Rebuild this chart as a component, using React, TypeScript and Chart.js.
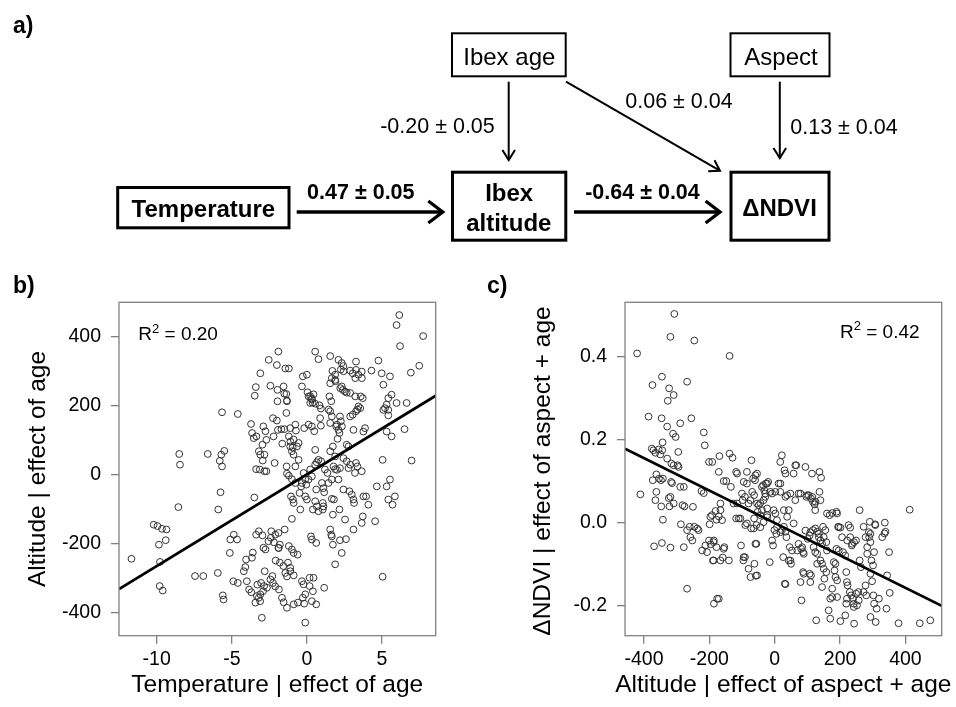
import React, { useEffect, useRef } from 'react';
import { Chart, registerables } from 'chart.js';

Chart.register(...registerables);

const FONT = '"Liberation Sans", Arial, Helvetica, sans-serif';
Chart.defaults.font.family = FONT;

// ---------- Panel b: Temperature | effect of age  vs  Altitude | effect of age ----------
const bTemp = [
  -11.68, -10.2, -9.95, -9.65, -9.35, -9.85, -9.4, -9.78, -9.8, -9.6, -8.5, -8.45, -8.56, -7.45, -6.9, -6.6,
  -5.9, -5.93, -5.8, -5.7, -5.65, -5.5, -5.75, -5.65, -5.6, -5.55, -5.13, -5.1, -4.87, -4.65, -4.9, -4.6,
  -4.6, -4.2, -4.1, -4.05, -4.0, -3.85, -3.7, -3.72, -3.65, -3.54, -3.36, -3.6, -3.47, -3.4, -3.5, -3.38,
  -3.14, -3.38, -3.2, -2.96, -3.43, -3.2, -3.1, -2.92, -3.3, -3.05, -2.85, -3.2, -3.1, -2.96, -2.83, -3.1,
  -3.0, -2.94, -2.83, -2.7, -2.9, -2.76, -2.81, -2.76, -2.7, -2.54, -2.43, -2.4, -2.37, -2.2, -2.43, -2.3,
  -2.26, -2.26, -2.15, -2.08, -1.8, -1.57, -2.0, -2.0, -1.93, -1.7, -1.5, -1.9, -1.88, -1.8, -1.86, -1.66,
  -1.55, -1.33, -1.64, -1.55, -1.37, -1.44, -1.37, -1.33, -1.48, -1.35, -1.33, -1.2, -1.1, -0.95, -1.0, -0.88,
  -1.2, -1.26, -1.2, -1.0, -1.1, -0.88, -1.0, -1.06, -0.93, -0.88, -1.2, -1.0, -0.77, -0.88, -0.77, -0.73,
  -0.66, -0.55, -0.62, -0.88, -0.6, -0.77, -0.55, -0.49, -0.33, -0.38, -0.44, -0.33, -0.27, 0, -0.33, -0.22,
  -0.27, -0.11, -0.18, -0.11, -0.18, 0.11, 0.33, 0.49, -0.22, -0.11, 0.11, -0.04, -0.11, 0, 0.04, 0.22,
  0.33, 0.44, 0.22, 0.38, 0.55, 0.18, 0.44, 0.18, 0.4, 0.33, 0.62, 0.33, 0.22, 0.27, 0.33, 0.62,
  0.4, 0.55, 0.66, 0.77, 0.95, 0.55, 0.55, 0.66, 0.77, 0.62, 0.77, 0.84, 0.93, 0.88, 0.93, 1.0,
  1.1, 1.15, 1.06, 1.1, 1.06, 1.15, 1.2, 1.37, 1.44, 1.66, 1.55, 1.55, 1.66, 1.88, 1.5, 1.62,
  1.55, 1.66, 1.55, 1.73, 1.88, 1.55, 1.62, 1.66, 1.66, 1.8, 1.73, 1.73, 1.77, 1.88, 2.0, 2.2,
  1.88, 1.95, 2.1, 2.17, 2.04, 2.1, 2.26, 2.43, 2.32, 2.1, 2.17, 2.2, 2.2, 2.26, 2.32, 2.4,
  2.54, 2.65, 2.32, 2.43, 2.65, 2.43, 2.54, 2.6, 2.65, 2.77, 2.77, 2.88, 2.83, 2.99, 3.1, 3.14,
  2.88, 3.05, 3.27, 2.88, 3.05, 3.27, 3.43, 3.65, 3.1, 3.1, 3.2, 3.27, 3.36, 3.27, 3.43, 3.58,
  3.72, 3.65, 3.65, 3.72, 3.76, 3.87, 3.76, 3.94, 4.09, 4.3, 4.54, 4.65, 4.76, 4.98, 5.04, 5.04,
  5.09, 5.09, 5.2, 5.31, 5.42, 5.42, 5.31, 5.31, 5.42, 5.42, 5.64, 5.53, 5.53, 5.64, 5.7, 5.86,
  5.97, 5.97, 6.15, 6.2, 6.5, 6.64, 6.92, 6.97, 7.48, 7.74, 0.55, 1.7, 1.9,
  -1.96, -1.51, -1.96, -1.33, 0.11, 0.33, 3.22, 3.66, 2.44, 2.88, 3.22, 2.22, 1.88, 3.37, 3.55, 1.44,
  1.55, 2.0, 2.33, -1.11, -2.22, -1.11, -0.89, -2.11, -2.56, -3.66, -1.11, -1.33, -1.44, -3.33, -3.11, -2.66,
  -2.11, -1.89, -2.89, -1.89,
];
const bAlt = [
  -245, -146, -150, -158, -160, -204, -191, -254, -324, -337, 59, 28, -95, -295, -295, 59,
  -102, -286, 39, 57, 23, 68, -52, 180, -351, -363, -228, -189, -175, -189, -310, -315,
  175, -281, -269, -247, -310, -334, -342, 146, 120, 105, 110, -227, 228, 253, -67, 15,
  14, -175, -165, -177, -372, -358, -348, -339, -320, -315, -324, 67, 57, 86, 57, 293,
  -416, 40, 9, 9, 139, 125, -281, -218, 100, 332, 257, -184, -165, -197, -305, -295,
  -315, 163, 33, -250, -256, -266, 317, 156, 129, 131, 131, 356, -214, -204, -334, -358,
  -371, -387, 89, 255, 233, 307, 178, 214, -160, 23, 2, 110, 95, 78, 67, 101,
  307, -256, -208, -218, -281, -293, -129, -64, -73, -83, -4, -14, -25, -228, 23, 127,
  81, 91, -233, -377, -372, 144, 42, -54, -25, -35, -102, 255, 284, 289, -310, -319,
  -358, -348, -375, -430, 134, 144, 139, 125, 4, -14, -15, -30, -64, -73, 238, 227,
  220, 232, 207, 208, 205, -300, -300, -324, -339, -368, -377, -6, 14, -180, -189, -199,
  -102, 28, 35, 42, 38, 71, -78, -93, -107, -44, 334, 200, 191, 163, 141, -25,
  -40, -52, -83, -93, -102, -329, 14, 4, -25, -15, 343, 264, 279, 289, 226, 212,
  183, 168, 67, 81, 52, -160, -175, -180, -71, -73, -117, -204, 23, 15, 13, 18,
  -261, 139, 129, 120, 103, 332, 304, 314, 323, -15, -102, -191, 168, 154, 255, 245,
  240, 237, -228, 47, 38, -44, -131, -188, 86, 81, 18, 28, -49, -59, -73, -83,
  168, 173, 183, 301, 293, 303, 289, 298, 129, -160, 4, 33, 23, 327, 197, 226,
  221, 9, -141, -122, 124, 134, -64, -64, -88, 301, -136, -35, 330, 293, 42, -297,
  260, 187, 192, 202, 187, 171, 124, -35, -73, 221, 231, 284, -15, 110, -88, -64,
  207, 433, 462, 372, 131, 207, 295, 40, 315, 401, 356, 300, 270,
  245, 234, 212, 212, 226, 217, 279, 279, 299, 236, 226, 250, 274, 188, 192, 188,
  149, 144, 139, 134, 110, 81, 57, -175, -194, -242, -271, -296, -286, -353, -368, -329,
  -325, -170, -213, -213,
];
const bFitX = [-12.51, 8.575];
const bFitY = [-333, 228];
const bXTicks = [-10, -5, 0, 5];
const bYTicks = [-400, -200, 0, 200, 400];

// ---------- Panel c: Altitude | effect of aspect + age  vs  ΔNDVI | effect of aspect + age ----------
const cAlt = [
  -421, -411, -386, -376, -371, -365, -374, -373, -362, -354, -369, -365, -362, -355, -350, -344,
  -347, -342, -346, -345, -343, -348, -342, -345, -329, -329, -327, -324, -323, -322, -319, -319,
  -316, -309, -317, -311, -303, -309, -309, -307, -297, -294, -295, -289, -289, -278, -287, -282,
  -276, -278, -268, -268, -268, -260, -258, -252, -255, -250, -246, -246, -237, -233, -224, -217,
  -222, -207, -217, -214, -201, -191, -201, -196, -199, -197, -189, -186, -176, -171, -186, -181,
  -178, -171, -178, -171, -169, -166, -159, -166, -156, -148, -154, -140, -138, -138, -129, -134,
  -126, -118, -118, -110, -103, -98, -91, -96, -91, -95, -85, -90, -85, -85, -80, -74,
  -80, -74, -72, -71, -69, -63, -66, -60, -63, -56, -62, -58, -56, -54, -54, -49,
  -44, -52, -44, -39, -32, -29, -34, -29, -27, -20, -23, -15, -13, -8, -8, -5,
  -3, -1, 5, 7, 12, 17, 17, 22, 22, 28, 33, 26, 28, 30, 33, 31,
  33, 38, 36, 38, 43, 46, 53, 48, 50, 58, 58, 63, 66, 63, 73, 73,
  81, 87, 79, 87, 82, 89, 94, 97, 101, 107, 104, 107, 111, 109, 111, 117,
  122, 114, 117, 124, 130, 135, 119, 124, 130, 124, 127, 130, 135, 140, 145, 137,
  142, 137, 140, 140, 145, 150, 145, 148, 155, 150, 158, 152, 158, 160, 165, 168,
  176, 189, 170, 170, 176, 181, 186, 183, 186, 189, 191, 194, 201, 196, 201, 206,
  209, 216, 216, 219, 221, 223, 221, 219, 226, 231, 230, 234, 240, 231, 236, 243,
  249, 242, 243, 249, 256, 252, 260, 260, 264, 272, 278, 283, 272, 280, 278, 283,
  291, 293, 289, 293, 293, 293, 298, 296, 301, 302, 304, 304, 307, 309, 312, 319,
  329, 337, 339, 342, 344, 350, 352, 379, 413, 444, 476,
  -35.5, -23.3, 2, 17.5, 48, 79, 99, 115, 125, -39, 2, -23, 17.5, 7, 69, 84,
  94, 109, 43, 160, 191, 196, 222, 237, 308, 288, 336, 89, 33, 176, 191, 242,
  257, -319, -314, -212, -187, -192, -166, -161, -156, -187, -115, -59, -100, -115, -105, -64,
  -44, -34, -23, -95, -59, -54,
];
const cNdvi = [
  0.407, 0.068, 0.255, 0.178, 0.174, 0.168, 0.331, 0.102, 0.116, 0.106, -0.057, 0.054, 0.074, 0.176, 0.164, 0.174,
  0.039, 0.007, 0.251, 0.351, 0.193, 0.102, 0.106, -0.049, 0.231, 0.154, 0.293, 0.059, 0.323, 0.039, 0.447, -0.06,
  0.142, 0.138, 0.098, 0.214, 0.206, 0.307, 0.046, 0.502, 0.138, 0.134, 0.17, 0.239, 0.086, 0.086, -0.004, 0.042,
  0.039, -0.059, 0.339, -0.159, -0.018, -0.01, -0.035, -0.043, 0.251, 0.038, 0.438, -0.01, -0.014, -0.018, 0.076, 0.071,
  -0.067, -0.071, 0.217, 0.186, 0.146, 0.146, -0.043, -0.052, -0.004, 0.014, -0.091, -0.195, -0.183, -0.183, -0.043, 0.028,
  0.007, 0.015, -0.059, 0.122, 0.16, -0.091, -0.084, 0.046, 0.1, 0.1, -0.059, -0.091, 0.401, 0.166, 0.156, 0.086,
  0.046, 0.122, 0.01, 0.01, -0.055, 0.054, 0.062, -0.091, -0.083, 0.098, 0.094, -0.006, -0.002, 0.122, 0.046, 0.054,
  -0.111, -0.131, -0.014, 0.15, 0.074, 0.066, 0.106, 0.102, 0.01, -0.006, -0.099, -0.128, -0.051, 0.118, 0.046, 0.042,
  0.047, 0.026, 0.018, 0.086, 0.078, 0.07, 0.054, 0.062, 0.094, 0.098, 0.034, -0.095, 0.074, 0.07, -0.043, -0.055,
  0.03, -0.018, -0.027, 0.006, 0.094, 0.074, 0.146, 0.162, -0.018, -0.01, -0.022, -0.083, 0.03, 0.126, 0.118, -0.147,
  0.062, 0.066, -0.035, 0.014, 0.03, -0.059, -0.067, -0.091, -0.099, 0.118, -0.002, 0.138, 0.138, 0.054, 0.07, -0.051,
  -0.063, -0.071, -0.143, -0.119, -0.187, -0.075, 0.134, 0.062, -0.039, -0.031, 0.066, -0.123, -0.127, -0.143, 0.058, 0.05,
  0.044, 0.118, -0.018, -0.014, -0.022, -0.027, -0.059, -0.071, -0.075, 0.03, -0.235, -0.099, -0.035, -0.043, -0.051, 0.122,
  0.108, 0.074, 0.054, -0.091, -0.099, -0.111, -0.155, -0.01, -0.018, -0.035, -0.047, -0.135, -0.119, -0.067, -0.211, 0.018,
  0.023, 0.026, -0.231, -0.183, -0.159, -0.095, -0.099, -0.115, -0.131, -0.063, -0.139, -0.01, -0.012, -0.067, -0.237, -0.035,
  -0.071, -0.079, -0.223, -0.119, -0.143, -0.151, -0.183, -0.195, -0.006, -0.012, -0.167, -0.175, -0.183, -0.035, -0.055, -0.047,
  -0.043, -0.195, -0.243, -0.171, -0.167, -0.199, 0.03, -0.091, -0.107, -0.01, -0.035, -0.059, -0.167, -0.175, -0.151, -0.075,
  0.002, -0.027, -0.035, -0.047, -0.227, -0.123, -0.141, -0.091, -0.103, -0.175, -0.195, -0.071, -0.004, -0.239, -0.207, -0.183,
  -0.035, 0.0, -0.022, -0.207, -0.127, -0.071, -0.169, -0.242, 0.031, -0.242, -0.235,
  0.09, 0.094, 0.074, 0.094, 0.07, 0.07, 0.066, 0.062, 0.05, 0.03, 0.022, 0.018, -0.023, -0.011, -0.067, -0.059,
  -0.019, -0.023, -0.091, 0.022, 0.022, -0.011, -0.043, -0.051, -0.006, -0.023, -0.026, -0.123, -0.148, -0.179, -0.179, -0.203,
  -0.187, 0.062, 0.095, -0.055, -0.047, 0.018, 0.03, 0.006, -0.063, -0.091, 0.118, 0.114, 0.07, 0.046, 0.01, -0.014,
  -0.011, 0.001, 0.013, -0.083, -0.051, -0.127,
];
const cFitX = [-458, 511];
const cFitY = [0.178, -0.2];
const cXTicks = [-400, -200, 0, 200, 400];
const cYTicks = [-0.2, 0, 0.2, 0.4];

// ---------- Path diagram (panel a) ----------
const pathCoefs = ['0.47 ± 0.05', '-0.64 ± 0.04', '-0.20 ± 0.05', '0.06 ± 0.04', '0.13 ± 0.04'];

const boxPlugin = {
  id: 'frameBox',
  afterDatasetsDraw(chart: any) {
    const { ctx, chartArea } = chart;
    ctx.save();
    ctx.strokeStyle = '#808080';
    ctx.lineWidth = 1.3;
    ctx.strokeRect(chartArea.left, chartArea.top, chartArea.right - chartArea.left, chartArea.bottom - chartArea.top);
    ctx.restore();
  },
};

type PanelProps = {
  left: number; top: number; width: number; height: number;
  xs: number[]; ys: number[]; fitX: number[]; fitY: number[];
  xTicks: number[]; yTicks: number[];
  xMin: number; xMax: number; yMin: number; yMax: number;
  yAxisWidth: number; padRight: number; xAxisHeight: number;
  fmtY: (v: number) => string;
};

function ScatterPanel(p: PanelProps) {
  const ref = useRef<HTMLCanvasElement>(null);
  useEffect(() => {
    if (!ref.current) return;
    const pts = p.xs.map((x, i) => ({ x, y: p.ys[i] }));
    const fit = p.fitX.map((x, i) => ({ x, y: p.fitY[i] }));
    const tickFont = { family: FONT, size: 19.5 };
    const grid = { drawOnChartArea: false, drawTicks: true, tickLength: 8, color: '#808080', tickColor: '#808080', lineWidth: 1.3 };
    const chart = new Chart(ref.current, {
      type: 'scatter',
      data: {
        datasets: [
          { type: 'line', data: fit, borderColor: '#000', borderWidth: 2.7, pointRadius: 0, fill: false, tension: 0 } as any,
          { data: pts, pointRadius: 3.4, pointHoverRadius: 3.4, borderWidth: 1, borderColor: '#333333', backgroundColor: 'rgba(0,0,0,0)' },
        ],
      },
      options: {
        animation: false,
        responsive: false,
        events: [],
        layout: { padding: { top: 32.3, right: p.padRight, bottom: 0, left: 0 } },
        plugins: { legend: { display: false }, tooltip: { enabled: false } },
        scales: {
          x: {
            type: 'linear', min: p.xMin, max: p.xMax,
            afterFit: (s: any) => { s.height = p.xAxisHeight; },
            afterBuildTicks: (s: any) => { s.ticks = p.xTicks.map((v) => ({ value: v })); },
            ticks: { color: '#000', font: tickFont, padding: 4, maxRotation: 0, autoSkip: false, callback: (v: any) => String(v) },
            grid, border: { display: false },
          },
          y: {
            type: 'linear', min: p.yMin, max: p.yMax,
            afterFit: (s: any) => { s.width = p.yAxisWidth; },
            afterBuildTicks: (s: any) => { s.ticks = p.yTicks.map((v) => ({ value: v })); },
            ticks: { color: '#000', font: tickFont, padding: 10, autoSkip: false, callback: (v: any) => p.fmtY(Number(v)) },
            grid, border: { display: false },
          },
        },
      } as any,
      plugins: [boxPlugin],
    });
    return () => chart.destroy();
  }, []);
  return (
    <canvas
      ref={ref}
      width={p.width}
      height={p.height}
      style={{ position: 'absolute', left: p.left, top: p.top, width: p.width, height: p.height }}
    />
  );
}

function Arrow({ x1, y1, x2, y2, w, back, spread }: { x1: number; y1: number; x2: number; y2: number; w: number; back: number; spread: number }) {
  const dx = x2 - x1, dy = y2 - y1;
  const len = Math.hypot(dx, dy);
  const ux = dx / len, uy = dy / len;
  const px = -uy, py = ux;
  const bx = x2 - ux * back, by = y2 - uy * back;
  const h1 = `${bx + px * spread},${by + py * spread}`;
  const h2 = `${bx - px * spread},${by - py * spread}`;
  return (
    <g stroke="#000" strokeWidth={w} fill="none">
      <line x1={x1} y1={y1} x2={x2 - ux * w * 0.6} y2={y2 - uy * w * 0.6} />
      <polyline points={`${h1} ${x2},${y2} ${h2}`} strokeLinejoin="miter" strokeMiterlimit={10} />
    </g>
  );
}

export default function App() {
  return (
    <div style={{ position: 'absolute', left: 0, top: 0, width: 956, height: 707, background: '#fff', overflow: 'hidden' }}>
      <ScatterPanel
        left={0} top={270} width={480} height={437}
        xs={bTemp} ys={bAlt} fitX={bFitX} fitY={bFitY}
        xTicks={bXTicks} yTicks={bYTicks}
        xMin={-12.51} xMax={8.575} yMin={-468} yMax={499}
        yAxisWidth={119} padRight={44.3} xAxisHeight={71.3}
        fmtY={(v) => String(v)}
      />
      <ScatterPanel
        left={470} top={270} width={486} height={437}
        xs={cAlt} ys={cNdvi} fitX={cFitX} fitY={cFitY}
        xTicks={cXTicks} yTicks={cYTicks}
        xMin={-458} xMax={511} yMin={-0.272} yMax={0.53}
        yAxisWidth={155} padRight={14.3} xAxisHeight={71.3}
        fmtY={(v) => v.toFixed(1)}
      />
      <svg width={956} height={707} style={{ position: 'absolute', left: 0, top: 0, pointerEvents: 'none' }} fontFamily={FONT}>
        {/* panel labels */}
        <text x={13} y={24.5} fontSize={23} fontWeight="bold" dominantBaseline="central">a)</text>
        <text x={13} y={285} fontSize={23} fontWeight="bold" dominantBaseline="central">b)</text>
        <text x={487} y={285} fontSize={23} fontWeight="bold" dominantBaseline="central">c)</text>

        {/* boxes */}
        <g fill="none" stroke="#000">
          <rect x={452} y={33.3} width={113.7} height={43} strokeWidth={2} />
          <rect x={730.5} y={33.3} width={99} height={43} strokeWidth={2} />
          <rect x={117.7} y={187.5} width={171.3} height={40.3} strokeWidth={3} />
          <rect x={452.5} y={172.2} width={113.3} height={68} strokeWidth={3} />
          <rect x={731} y={172.2} width={98} height={68} strokeWidth={3} />
        </g>

        {/* arrows */}
        <Arrow x1={296.7} y1={212} x2={442.7} y2={212} w={3.3} back={14.4} spread={11} />
        <Arrow x1={574} y1={212} x2={720} y2={212} w={3.3} back={14.4} spread={11} />
        <Arrow x1={508.7} y1={81.7} x2={508.7} y2={160} w={2} back={10} spread={6.3} />
        <Arrow x1={566} y1={81.7} x2={720} y2={170.7} w={2} back={10} spread={6.3} />
        <Arrow x1={779.8} y1={81.7} x2={779.8} y2={158} w={2} back={10} spread={6.3} />

        {/* node labels */}
        <g textAnchor="middle" dominantBaseline="central" fill="#000">
          <text x={509.3} y={56} fontSize={24}>Ibex age</text>
          <text x={781} y={56} fontSize={24}>Aspect</text>
          <text x={203.4} y={208.5} fontSize={24} fontWeight="bold">Temperature</text>
          <text x={509.2} y={192.7} fontSize={24} fontWeight="bold">Ibex</text>
          <text x={508.8} y={222.2} fontSize={24} fontWeight="bold">altitude</text>
          <text x={779.5} y={207.5} fontSize={24} fontWeight="bold">ΔNDVI</text>
        </g>

        {/* path coefficients */}
        <g textAnchor="middle" dominantBaseline="central" fill="#000" fontSize={21.5}>
          <text x={360.8} y={191.7} fontWeight="bold">{pathCoefs[0]}</text>
          <text x={642.5} y={191.7} fontWeight="bold">{pathCoefs[1]}</text>
          <text x={437.5} y={126}>{pathCoefs[2]}</text>
          <text x={679} y={101}>{pathCoefs[3]}</text>
          <text x={844} y={126.7}>{pathCoefs[4]}</text>
        </g>

        {/* axis titles */}
        <g textAnchor="middle" dominantBaseline="central" fill="#000" fontSize={24.5}>
          <text x={277.3} y={683.3}>Temperature | effect of age</text>
          <text transform="translate(36,469) rotate(-90)">Altitude | effect of age</text>
          <text x={783.3} y={683.3}>Altitude | effect of aspect + age</text>
          <text transform="translate(541.7,471) rotate(-90)">ΔNDVI | effect of aspect + age</text>
        </g>

        {/* R² annotations */}
        <text x={138.3} y={340} fontSize={19} fill="#000">
          <tspan>R</tspan><tspan dy={-7.5} fontSize={13}>2</tspan><tspan dy={7.5}> = 0.20</tspan>
        </text>
        <text x={840} y={337.8} fontSize={19} fill="#000">
          <tspan>R</tspan><tspan dy={-7.5} fontSize={13}>2</tspan><tspan dy={7.5}> = 0.42</tspan>
        </text>
      </svg>
    </div>
  );
}
